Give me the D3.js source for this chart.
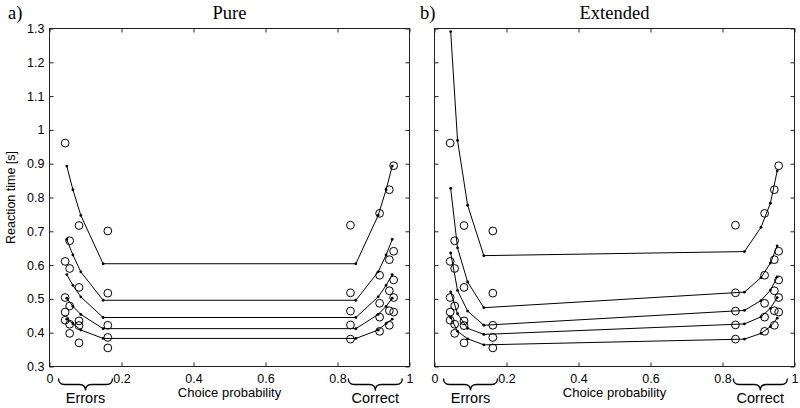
<!DOCTYPE html>
<html>
<head>
<meta charset="utf-8">
<script src="https://cdn.jsdelivr.net/npm/d3@7"></script>
<style>
  html, body { margin: 0; padding: 0; background: #fff; }
  svg { display: block; }
</style>
</head>
<body>
<svg id="chart" width="800" height="408"></svg>
<script>
// ---------------- DATA ----------------
const xTicks = [0, 0.2, 0.4, 0.6, 0.8, 1];
const yTicks = [0.3, 0.4, 0.5, 0.6, 0.7, 0.8, 0.9, 1.0, 1.1, 1.2, 1.3];
const yTickLabels = ["0.3", "0.4", "0.5", "0.6", "0.7", "0.8", "0.9", "1", "1.1", "1.2", "1.3"];

const panelTitles = ["Pure", "Extended"];
const panelLetters = ["a)", "b)"];

// Observed data (same in both panels): choice probabilities and RT quantiles
const obsErrX = [0.0435, 0.056, 0.082, 0.162];
const obsCorX = [0.836, 0.917, 0.944, 0.956];
const obsErrRT = [
  [0.437, 0.461, 0.504, 0.611, 0.961],
  [0.398, 0.425, 0.479, 0.590, 0.672],
  [0.370, 0.421, 0.435, 0.534, 0.717],
  [0.355, 0.386, 0.422, 0.517, 0.701]
];
const obsCorRT = [
  [0.381, 0.423, 0.464, 0.518, 0.718],
  [0.404, 0.446, 0.487, 0.570, 0.753],
  [0.422, 0.465, 0.524, 0.616, 0.823],
  [0.461, 0.504, 0.556, 0.641, 0.894]
];

// Pure model predictions (5 quantile lines)
const pureErrX = [0.048, 0.065, 0.087, 0.149];
const pureCorX = [0.851, 0.913, 0.935, 0.952];
const pureErrRT = [
  [0.893, 0.823, 0.747, 0.604],
  [0.676, 0.630, 0.580, 0.496],
  [0.572, 0.540, 0.506, 0.445],
  [0.502, 0.478, 0.454, 0.412],
  [0.440, 0.427, 0.408, 0.383]
];
const pureCorRT = [
  [0.604, 0.747, 0.823, 0.893],
  [0.496, 0.580, 0.630, 0.676],
  [0.445, 0.506, 0.540, 0.572],
  [0.412, 0.454, 0.478, 0.502],
  [0.383, 0.408, 0.427, 0.440]
];

// Extended model predictions
const extErrX = [0.045, 0.064, 0.092, 0.137];
const extCorX = [0.861, 0.907, 0.933, 0.952];
const extErrRT = [
  [1.291, 0.969, 0.777, 0.628],
  [0.827, 0.651, 0.550, 0.474],
  [0.636, 0.525, 0.464, 0.422],
  [0.521, 0.456, 0.413, 0.395],
  [0.445, 0.404, 0.382, 0.364]
];
const extCorRT = [
  [0.640, 0.712, 0.783, 0.879],
  [0.520, 0.563, 0.606, 0.657],
  [0.466, 0.495, 0.526, 0.565],
  [0.426, 0.447, 0.472, 0.504],
  [0.381, 0.398, 0.418, 0.443]
];

const braceErr = [0.025, 0.175];
const braceCor = [0.83, 0.98];
const braceLabels = ["Errors", "Correct"];
const xLabel = "Choice probability";
const yLabel = "Reaction time [s]";

// ---------------- DRAW ----------------
const svg = d3.select("#chart");
const plotTop = 28.5, plotBottom = 366.5;
const panels = [
  { x0: 49.5, x1: 409.5, letterX: 8, errX: pureErrX, corX: pureCorX, errRT: pureErrRT, corRT: pureCorRT, yLabels: true },
  { x0: 434.5, x1: 794.5, letterX: 420, errX: extErrX, corX: extCorX, errRT: extErrRT, corRT: extCorRT, yLabels: false }
];
const sans = "'Liberation Sans', Arial, Helvetica, sans-serif";
const serif = "'Liberation Serif', 'Times New Roman', serif";

const y = d3.scaleLinear().domain([0.3, 1.3]).range([plotBottom, plotTop]);

panels.forEach((p, pi) => {
  const x = d3.scaleLinear().domain([0, 1]).range([p.x0, p.x1]);
  const g = svg.append("g");
  const tl = 4;

  // box
  g.append("rect").attr("x", p.x0).attr("y", plotTop)
    .attr("width", p.x1 - p.x0).attr("height", plotBottom - plotTop)
    .attr("fill", "none").attr("stroke", "#222").attr("stroke-width", 1);

  // bottom axis (inward ticks + labels)
  const xb = g.append("g").attr("transform", `translate(0,${plotBottom})`)
    .call(d3.axisBottom(x).tickValues(xTicks).tickSizeInner(-tl).tickSizeOuter(0)
      .tickPadding(8).tickFormat(d => d === 0 ? "0" : d === 1 ? "1" : d3.format(".1f")(d)));
  xb.select(".domain").remove();
  xb.selectAll("line").attr("stroke", "#222");
  xb.selectAll("text").attr("font-family", sans).attr("font-size", 12.5).attr("fill", "#000");

  // top axis ticks
  const xt = g.append("g").attr("transform", `translate(0,${plotTop})`)
    .call(d3.axisTop(x).tickValues(xTicks).tickSizeInner(-tl).tickSizeOuter(0).tickFormat(""));
  xt.select(".domain").remove();
  xt.selectAll("line").attr("stroke", "#222");

  // left axis
  const yl = g.append("g").attr("transform", `translate(${p.x0},0)`)
    .call(d3.axisLeft(y).tickValues(yTicks).tickSizeInner(-tl).tickSizeOuter(0).tickPadding(5)
      .tickFormat((d, i) => p.yLabels ? yTickLabels[i] : ""));
  yl.select(".domain").remove();
  yl.selectAll("line").attr("stroke", "#222");
  yl.selectAll("text").attr("font-family", sans).attr("font-size", 12.5).attr("fill", "#000");

  // right axis ticks
  const yr = g.append("g").attr("transform", `translate(${p.x1},0)`)
    .call(d3.axisRight(y).tickValues(yTicks).tickSizeInner(-tl).tickSizeOuter(0).tickFormat(""));
  yr.select(".domain").remove();
  yr.selectAll("line").attr("stroke", "#222");

  // model lines
  const line = d3.line().x(d => x(d[0])).y(d => y(d[1]));
  p.errRT.forEach((row, li) => {
    const pts = p.errX.map((xv, k) => [xv, row[k]])
      .concat(p.corX.map((xv, k) => [xv, p.corRT[li][k]]));
    g.append("path").datum(pts).attr("d", line)
      .attr("fill", "none").attr("stroke", "#000").attr("stroke-width", 1);
    g.selectAll(null).data(pts).enter().append("circle")
      .attr("cx", d => x(d[0])).attr("cy", d => y(d[1])).attr("r", 1.4).attr("fill", "#000");
  });

  // observed circles
  const obs = [];
  obsErrX.forEach((xv, k) => obsErrRT[k].forEach(v => obs.push([xv, v])));
  obsCorX.forEach((xv, k) => obsCorRT[k].forEach(v => obs.push([xv, v])));
  g.selectAll(null).data(obs).enter().append("circle")
    .attr("cx", d => x(d[0])).attr("cy", d => y(d[1])).attr("r", 3.9)
    .attr("fill", "none").attr("stroke", "#000").attr("stroke-width", 1);

  // titles
  g.append("text").attr("x", (p.x0 + p.x1) / 2).attr("y", 19).attr("text-anchor", "middle")
    .attr("font-family", serif).attr("font-size", 18.5).text(panelTitles[pi]);
  g.append("text").attr("x", p.letterX).attr("y", 19).attr("text-anchor", "start")
    .attr("font-family", serif).attr("font-size", 18.5).text(panelLetters[pi]);

  // x label
  g.append("text").attr("x", x(0.5)).attr("y", 397).attr("text-anchor", "middle")
    .attr("font-family", sans).attr("font-size", 13).text(xLabel);

  // braces
  const brace = (a, b) => {
    const xa = x(a), xb2 = x(b), m = (xa + xb2) / 2, y0 = 378.5, h = 12, q = 6;
    const pth = d3.path();
    pth.moveTo(xa, y0);
    pth.quadraticCurveTo(xa, y0 + q, xa + q, y0 + q);
    pth.lineTo(m - q, y0 + q);
    pth.quadraticCurveTo(m, y0 + q, m, y0 + h);
    pth.quadraticCurveTo(m, y0 + q, m + q, y0 + q);
    pth.lineTo(xb2 - q, y0 + q);
    pth.quadraticCurveTo(xb2, y0 + q, xb2, y0);
    return pth.toString();
  };
  [braceErr, braceCor].forEach((br, bi) => {
    g.append("path").attr("d", brace(br[0], br[1]))
      .attr("fill", "none").attr("stroke", "#000").attr("stroke-width", 1.3);
    g.append("text").attr("x", x((br[0] + br[1]) / 2)).attr("y", 403)
      .attr("text-anchor", "middle").attr("font-family", sans).attr("font-size", 14.5)
      .text(braceLabels[bi]);
  });
});

// y label
svg.append("text").attr("transform", `translate(15,${(plotTop + plotBottom) / 2}) rotate(-90)`)
  .attr("text-anchor", "middle").attr("font-family", sans).attr("font-size", 12.5)
  .text(yLabel);
</script>
</body>
</html>
